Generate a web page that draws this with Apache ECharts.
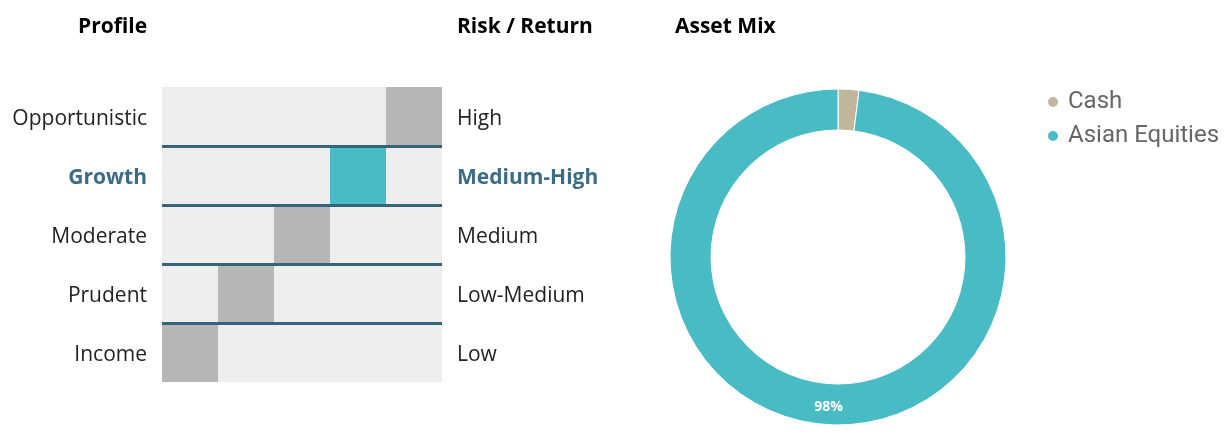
<!DOCTYPE html>
<html>
<head>
<meta charset="utf-8">
<script src="https://cdn.jsdelivr.net/npm/echarts@6/dist/echarts.min.js"></script>
<style>
  html, body { margin: 0; padding: 0; background: #fff; }
  #chart { width: 1225px; height: 434px; }
</style>
</head>
<body>
<div id="chart"></div>
<script>
// profiles, top to bottom
const profiles = ['Opportunistic', 'Growth', 'Moderate', 'Prudent', 'Income']
const riskLabels = ['High', 'Medium-High', 'Medium', 'Low-Medium', 'Low']
// which of the 5 risk columns is filled for each profile (0 = leftmost)
const riskLevels = [4, 3, 2, 1, 0]
const activeProfile = 'Growth'

const assetNames = ['Cash', 'Asian Equities']
const assetValues = [2, 98]

const teal = '#48bbc5'
const grey = '#b6b6b6'
const bg = '#eeeeee'
const lineColor = '#34647a'
const activeText = '#3b6b85'

const chart = echarts.init(document.getElementById('chart'))

// one stacked bar series per risk column
const barSeries = [0, 1, 2, 3, 4].map(col => ({
  type: 'bar',
  stack: 'risk',
  barCategoryGap: 0,
  silent: true,
  data: profiles.map((p, r) => ({
    value: 1,
    itemStyle: {
      color: riskLevels[r] === col ? (p === activeProfile ? teal : grey) : bg
    }
  }))
}))

const labelFmt = (list) => (value) => {
  const idx = list.indexOf(value)
  return profiles[idx] === activeProfile ? '{on|' + value + '}' : value
}
const labelRich = {
  on: { color: activeText, fontWeight: 'bold', fontSize: 21, fontFamily: 'Open Sans' }
}

const option = {
  backgroundColor: '#fff',
  animation: false,
  title: [
    { text: 'Profile', left: 73, top: 12 },
    { text: 'Risk / Return', left: 452, top: 12 },
    { text: 'Asset Mix', left: 670, top: 12 }
  ].map(t => Object.assign(t, {
    textStyle: { fontFamily: 'Open Sans', fontWeight: 'bold', fontSize: 21, color: '#000' }
  })),
  grid: { left: 162, right: 783, top: 87, bottom: 52 },
  xAxis: {
    type: 'value',
    min: 0,
    max: 5,
    show: false
  },
  yAxis: [{
    type: 'category',
    data: profiles,
    inverse: true,
    z: 5,
    axisLine: { show: false },
    axisTick: { show: false },
    axisLabel: {
      margin: 15,
      padding: [6, 0, 0, 0],
      fontFamily: 'Open Sans',
      fontSize: 21,
      color: '#222',
      formatter: labelFmt(profiles),
      rich: labelRich
    },
    splitLine: {
      show: true,
      showMinLine: false,
      showMaxLine: false,
      lineStyle: { color: lineColor, width: 3 }
    }
  }, {
    type: 'category',
    data: riskLabels,
    inverse: true,
    position: 'right',
    axisLine: { show: false },
    axisTick: { show: false },
    splitLine: { show: false },
    axisLabel: {
      margin: 15,
      padding: [6, 0, 0, 0],
      fontFamily: 'Open Sans',
      fontSize: 21,
      color: '#222',
      formatter: labelFmt(riskLabels),
      rich: labelRich
    }
  }],
  legend: {
    data: assetNames,
    orient: 'vertical',
    left: 1041,
    top: 85,
    icon: 'circle',
    itemWidth: 20,
    itemHeight: 12,
    itemGap: 10,
    selectedMode: false,
    textStyle: { fontFamily: 'Roboto', fontSize: 24, color: '#666' }
  },
  series: barSeries.concat([{
    type: 'pie',
    center: [838, 257],
    radius: [127, 168],
    startAngle: 90,
    clockwise: true,
    silent: true,
    itemStyle: { borderColor: '#fff', borderWidth: 1 },
    label: {
      show: true,
      position: 'inside',
      color: '#fff',
      fontFamily: 'Open Sans',
      fontWeight: 'bold',
      fontSize: 14,
      formatter: p => p.percent >= 5 ? p.percent.toFixed(0) + '%' : ''
    },
    labelLine: { show: false },
    data: assetNames.map((n, i) => ({
      name: n,
      value: assetValues[i],
      itemStyle: { color: i === 0 ? '#c1b59b' : teal }
    }))
  }])
}

chart.setOption(option)
</script>
</body>
</html>
